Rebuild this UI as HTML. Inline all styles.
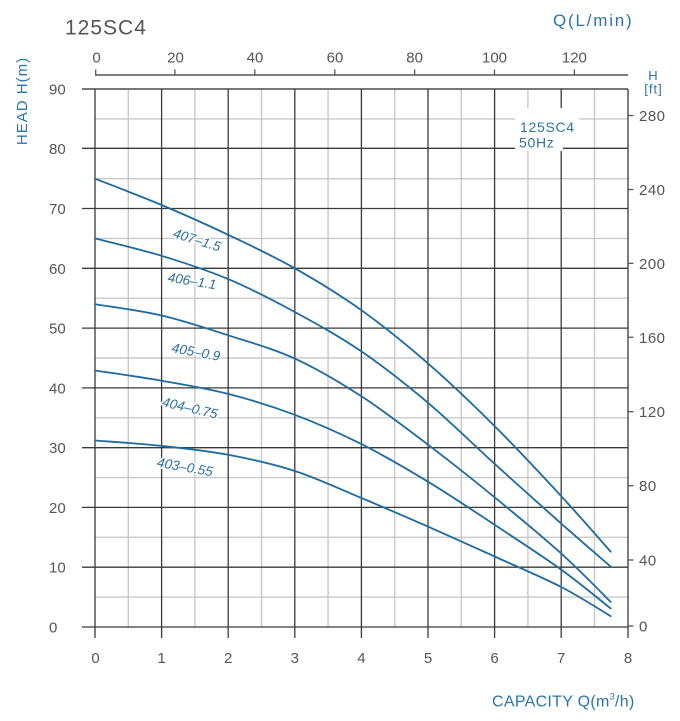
<!DOCTYPE html>
<html>
<head>
<meta charset="utf-8">
<style>
  html,body{margin:0;padding:0;background:#fff;}
  svg{display:block;}
  .tick{font-family:"Liberation Sans",sans-serif;font-size:15px;fill:#555;}
  .blue{font-family:"Liberation Sans",sans-serif;fill:#2c74a8;}
  .lbl{font-family:"Liberation Sans",sans-serif;font-size:13.5px;font-style:italic;fill:#2a6fa3;stroke:#fff;stroke-width:3;paint-order:stroke;stroke-linejoin:round;}
  .maj{stroke:#3a3a3a;stroke-width:1.3;}
  .min{stroke:#c9c9c9;stroke-width:1.4;}
  .crv{fill:none;stroke:#1f6a9e;stroke-width:1.8;stroke-linejoin:round;stroke-linecap:round;}
</style>
</head>
<body>
<svg width="680" height="721" viewBox="0 0 680 721" xmlns="http://www.w3.org/2000/svg">
  <rect x="0" y="0" width="680" height="721" fill="#fff"/>

  <!-- Titles -->
  <text x="65" y="34.5" font-family="Liberation Sans, sans-serif" font-size="21" fill="#555" letter-spacing="1">125SC4</text>
  <text x="553" y="26" class="blue" font-size="17" letter-spacing="1.8">Q(L/min)</text>
  <text transform="translate(27,101) rotate(-90)" text-anchor="middle" class="blue" font-size="15" letter-spacing="1">HEAD H(m)</text>
  <text x="653" y="80" text-anchor="middle" class="blue" font-size="13">H</text>
  <text x="653.5" y="93.5" text-anchor="middle" class="blue" font-size="13" letter-spacing="1">[ft]</text>
  <text x="492" y="706.5" class="blue" font-size="16" letter-spacing="0.3">CAPACITY Q(m<tspan font-size="9" dy="-7">3</tspan><tspan dy="7">/h)</tspan></text>

  <!-- Top axis (L/min) -->
  <line x1="95" y1="75" x2="628" y2="75" stroke="#555" stroke-width="1.5"/>
  <g stroke="#555" stroke-width="1.3">
    <line x1="95.7" y1="69.5" x2="95.7" y2="75"/>
    <line x1="174.9" y1="69.5" x2="174.9" y2="75"/>
    <line x1="254.8" y1="69.5" x2="254.8" y2="75"/>
    <line x1="334.8" y1="69.5" x2="334.8" y2="75"/>
    <line x1="414.6" y1="69.5" x2="414.6" y2="75"/>
    <line x1="494.5" y1="69.5" x2="494.5" y2="75"/>
    <line x1="574.4" y1="69.5" x2="574.4" y2="75"/>
  </g>
  <g class="tick" text-anchor="middle">
    <text x="96.5" y="62.5">0</text>
    <text x="175.5" y="62.5">20</text>
    <text x="255" y="62.5">40</text>
    <text x="335" y="62.5">60</text>
    <text x="414.6" y="62.5">80</text>
    <text x="494.5" y="62.5">100</text>
    <text x="574.4" y="62.5">120</text>
  </g>

  <!-- Minor vertical grid (half units) -->
  <g class="min">
    <line x1="128.3" y1="89" x2="128.3" y2="627"/>
    <line x1="194.9" y1="89" x2="194.9" y2="627"/>
    <line x1="261.5" y1="89" x2="261.5" y2="627"/>
    <line x1="328.1" y1="89" x2="328.1" y2="627"/>
    <line x1="394.7" y1="89" x2="394.7" y2="627"/>
    <line x1="461.3" y1="89" x2="461.3" y2="627"/>
    <line x1="527.9" y1="89" x2="527.9" y2="627"/>
    <line x1="594.5" y1="89" x2="594.5" y2="627"/>
  </g>
  <!-- Minor horizontal grid (5,15,...,85) -->
  <g class="min">
    <line x1="95" y1="597.1" x2="628" y2="597.1"/>
    <line x1="95" y1="537.3" x2="628" y2="537.3"/>
    <line x1="95" y1="477.6" x2="628" y2="477.6"/>
    <line x1="95" y1="417.8" x2="628" y2="417.8"/>
    <line x1="95" y1="358.0" x2="628" y2="358.0"/>
    <line x1="95" y1="298.2" x2="628" y2="298.2"/>
    <line x1="95" y1="238.4" x2="628" y2="238.4"/>
    <line x1="95" y1="178.7" x2="628" y2="178.7"/>
    <line x1="95" y1="118.9" x2="628" y2="118.9"/>
  </g>
  <!-- Major horizontal grid -->
  <g class="maj">
    <line x1="82" y1="627" x2="628" y2="627"/>
    <line x1="82" y1="567.2" x2="628" y2="567.2"/>
    <line x1="82" y1="507.4" x2="628" y2="507.4"/>
    <line x1="82" y1="447.7" x2="628" y2="447.7"/>
    <line x1="82" y1="387.9" x2="628" y2="387.9"/>
    <line x1="82" y1="328.1" x2="628" y2="328.1"/>
    <line x1="82" y1="268.3" x2="628" y2="268.3"/>
    <line x1="82" y1="208.5" x2="628" y2="208.5"/>
    <line x1="82" y1="148.3" x2="628" y2="148.3"/>
  </g>
  <line x1="82" y1="89" x2="628" y2="89" stroke="#777" stroke-width="2"/>
  <!-- Major vertical grid -->
  <g class="maj">
    <line x1="95" y1="89" x2="95" y2="638"/>
    <line x1="161.6" y1="89" x2="161.6" y2="638"/>
    <line x1="228.2" y1="89" x2="228.2" y2="638"/>
    <line x1="294.8" y1="89" x2="294.8" y2="638"/>
    <line x1="361.4" y1="89" x2="361.4" y2="638"/>
    <line x1="428" y1="89" x2="428" y2="638"/>
    <line x1="494.6" y1="89" x2="494.6" y2="638"/>
    <line x1="561.2" y1="89" x2="561.2" y2="638"/>
    <line x1="628" y1="89" x2="628" y2="638"/>
  </g>

  <!-- Right ft ticks -->
  <g stroke="#555" stroke-width="1.3">
    <line x1="628" y1="115.5" x2="633.5" y2="115.5"/>
    <line x1="628" y1="189.5" x2="633.5" y2="189.5"/>
    <line x1="628" y1="263.3" x2="633.5" y2="263.3"/>
    <line x1="628" y1="337.3" x2="633.5" y2="337.3"/>
    <line x1="628" y1="411.7" x2="633.5" y2="411.7"/>
    <line x1="628" y1="485.7" x2="633.5" y2="485.7"/>
    <line x1="628" y1="560" x2="633.5" y2="560"/>
    <line x1="628" y1="626" x2="633.5" y2="626"/>
  </g>
  <g class="tick" letter-spacing="0.5">
    <text x="639" y="121">280</text>
    <text x="639" y="195">240</text>
    <text x="639" y="268.8">200</text>
    <text x="639" y="342.8">160</text>
    <text x="639" y="417.2">120</text>
    <text x="639" y="491.2">80</text>
    <text x="639" y="565.5">40</text>
    <text x="639" y="631.5">0</text>
  </g>

  <!-- Left tick labels -->
  <g class="tick">
    <text x="49" y="94.5">90</text>
    <text x="49" y="153.8">80</text>
    <text x="49" y="214">70</text>
    <text x="49" y="273.8">60</text>
    <text x="49" y="333.6">50</text>
    <text x="49" y="393.4">40</text>
    <text x="49" y="453.2">30</text>
    <text x="49" y="512.9">20</text>
    <text x="49" y="572.7">10</text>
    <text x="49" y="632.5">0</text>
  </g>
  <!-- Bottom tick labels -->
  <g class="tick" text-anchor="middle">
    <text x="95.5" y="663">0</text>
    <text x="161.6" y="663">1</text>
    <text x="228.2" y="663">2</text>
    <text x="294.8" y="663">3</text>
    <text x="361.4" y="663">4</text>
    <text x="428" y="663">5</text>
    <text x="494.6" y="663">6</text>
    <text x="561.2" y="663">7</text>
    <text x="628" y="663">8</text>
  </g>

  <!-- Legend box -->
  <rect x="515" y="108" width="64" height="26" fill="#fff"/>
  <rect x="515" y="134" width="48" height="17" fill="#fff"/>
  <text x="520" y="132" class="blue" font-size="14" letter-spacing="0.7">125SC4</text>
  <text x="519" y="147.5" class="blue" font-size="14" letter-spacing="0.7">50Hz</text>

  <!-- Curves (smoothed) -->
  <path class="crv" d="M95,178.7 C106.1,183.08 139.4,195.65 161.6,205.0 C183.8,214.35 206,224.25 228.2,234.8 C250.4,245.35 272.6,255.73 294.8,268.3 C317,280.87 339.2,294.35 361.4,310.2 C383.6,326.05 405.8,344.08 428,363.4 C450.2,382.72 472.4,403.98 494.6,426.1 C516.8,448.22 541.85,475.17 561.2,496.1 C580.55,517.03 602.45,542.43 610.7,551.7"/>
  <path class="crv" d="M95,238.4 C106.1,241.3 139.4,249.02 161.6,255.8 C183.8,262.58 206,269.73 228.2,279.1 C250.4,288.47 272.6,299.95 294.8,312.0 C317,324.05 339.2,336.27 361.4,351.4 C383.6,366.53 405.8,384.07 428,402.8 C450.2,421.53 472.4,443.67 494.6,463.8 C516.8,483.93 541.85,506.47 561.2,523.6 C580.55,540.73 602.45,559.43 610.7,566.6"/>
  <path class="crv" d="M95,304.2 C106.1,306.08 139.4,310.32 161.6,315.5 C183.8,320.68 206,328.12 228.2,335.3 C250.4,342.48 272.6,348.43 294.8,358.6 C317,368.77 339.2,381.95 361.4,396.3 C383.6,410.65 405.8,427.87 428,444.7 C450.2,461.53 472.4,479.17 494.6,497.3 C516.8,515.43 541.85,536.07 561.2,553.5 C580.55,570.93 602.45,593.83 610.7,601.9"/>
  <path class="crv" d="M95,370.5 C106.1,372.2 139.4,376.8 161.6,380.7 C183.8,384.6 206,388.22 228.2,393.9 C250.4,399.58 272.6,406.43 294.8,414.8 C317,423.17 339.2,432.95 361.4,444.1 C383.6,455.25 405.8,468.25 428,481.7 C450.2,495.15 472.4,510.15 494.6,524.8 C516.8,539.45 541.85,555.65 561.2,569.6 C580.55,583.55 602.45,602.02 610.7,608.5"/>
  <path class="crv" d="M95,440.5 C106.1,441.4 139.4,443.52 161.6,445.9 C183.8,448.28 206,450.62 228.2,454.8 C250.4,458.98 272.6,463.8 294.8,471.0 C317,478.2 339.2,488.73 361.4,498 C383.6,507.27 405.8,516.85 428,526.6 C450.2,536.35 472.4,546.43 494.6,556.5 C516.8,566.57 541.85,577.05 561.2,587.0 C580.55,596.95 602.45,611.33 610.7,616.2"/>

  <!-- Curve labels -->
  <text class="lbl" transform="translate(197,240) rotate(17)" x="0" y="4.5" text-anchor="middle">407–1.5</text>
  <text class="lbl" transform="translate(192,281) rotate(9)" x="0" y="4.5" text-anchor="middle">406–1.1</text>
  <text class="lbl" transform="translate(196,352) rotate(10.5)" x="0" y="4.5" text-anchor="middle">405–0.9</text>
  <text class="lbl" transform="translate(190,408) rotate(13)" x="0" y="4.5" text-anchor="middle">404–0.75</text>
  <text class="lbl" transform="translate(185,467) rotate(10)" x="0" y="4.5" text-anchor="middle">403–0.55</text>
</svg>
</body>
</html>
